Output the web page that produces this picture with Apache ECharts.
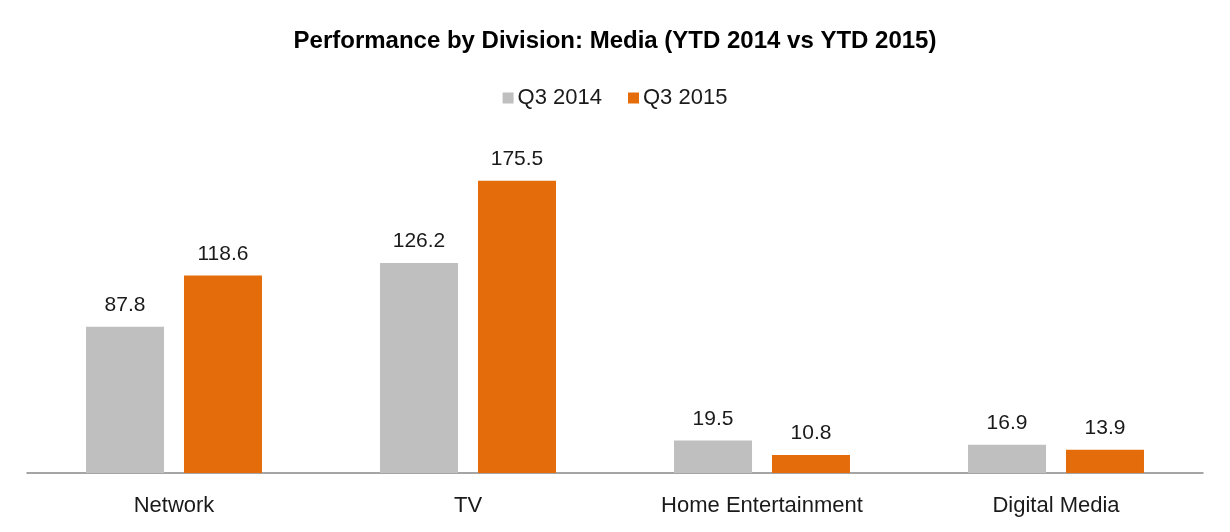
<!DOCTYPE html>
<html>
<head>
<meta charset="utf-8">
<script src="https://cdn.jsdelivr.net/npm/echarts@6/dist/echarts.min.js"></script>
<style>
  html, body { margin: 0; padding: 0; background: #fff; }
  #chart { width: 1230px; height: 532px; }
</style>
</head>
<body>
<div id="chart"></div>
<script>
// 数据
const divisions = ['Network', 'TV', 'Home Entertainment', 'Digital Media'];
const seriesNames = ['Q3 2014', 'Q3 2015'];
const q3_2014 = [87.8, 126.2, 19.5, 16.9];
const q3_2015 = [118.6, 175.5, 10.8, 13.9];

const colors = ['#BFBFBF', '#E46C0A'];
const fontFamily = '"Liberation Sans", Arial, sans-serif';

const chart = echarts.init(document.getElementById('chart'));

const makeSeries = (name, data, color) => ({
  name: name,
  type: 'bar',
  data: data,
  barWidth: 78,
  barGap: '25.6%',
  itemStyle: { color: color },
  label: {
    show: true,
    position: 'top',
    distance: 11,
    color: '#1a1a1a',
    fontSize: 21,
    fontFamily: fontFamily,
    formatter: (p) => p.value.toFixed(1)
  }
});

chart.setOption({
  animation: false,
  title: {
    text: 'Performance by Division: Media (YTD 2014 vs YTD 2015)',
    left: 'center',
    top: 24,
    textStyle: { fontSize: 24, fontWeight: 'bold', color: '#000', fontFamily: fontFamily }
  },
  legend: {
    data: seriesNames,
    top: 82,
    left: 'center',
    itemWidth: 11,
    itemHeight: 11,
    itemGap: 26,
    icon: 'rect',
    textStyle: { fontSize: 22, color: '#1a1a1a', fontFamily: fontFamily, padding: [0, 0, 0, -1] }
  },
  grid: { left: 27, right: 27, top: 140, bottom: 59, containLabel: false },
  xAxis: {
    type: 'category',
    data: divisions,
    axisLine: { lineStyle: { color: '#888', width: 1.5 } },
    axisTick: { show: false },
    axisLabel: { fontSize: 22, color: '#1a1a1a', margin: 22, fontFamily: fontFamily }
  },
  yAxis: {
    type: 'value',
    min: 0,
    max: 200,
    show: false,
    splitLine: { show: false }
  },
  series: [
    makeSeries(seriesNames[0], q3_2014, colors[0]),
    makeSeries(seriesNames[1], q3_2015, colors[1])
  ]
});
</script>
</body>
</html>
